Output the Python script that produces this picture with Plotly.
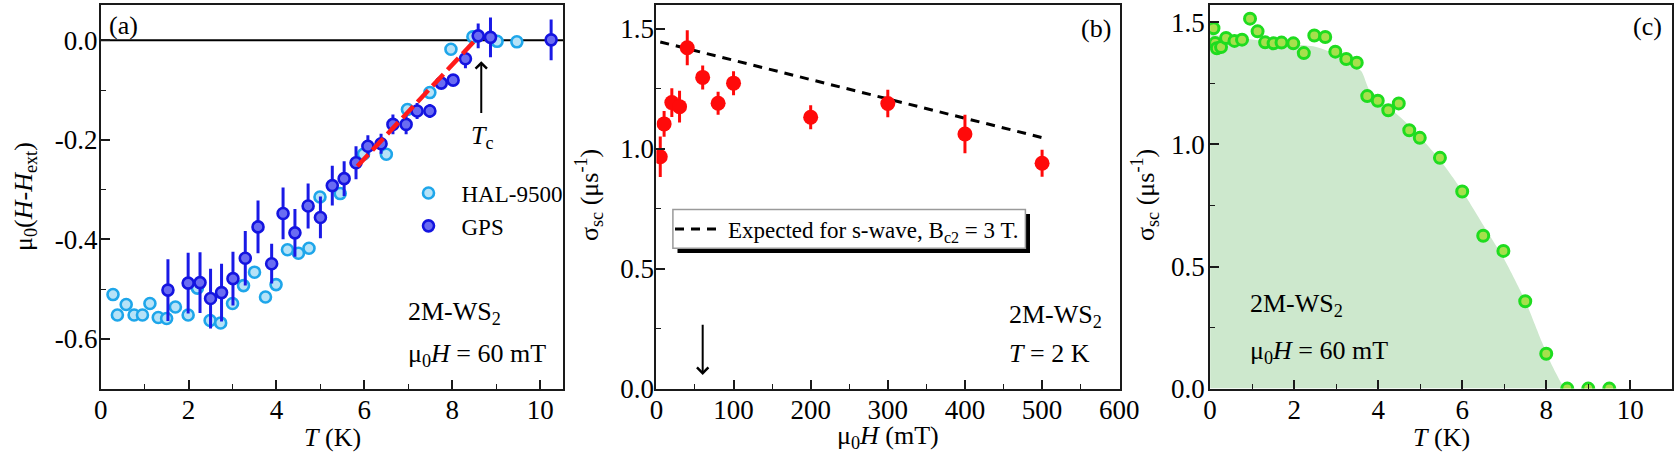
import plotly.graph_objects as go

W, H = 1678, 453
FONT = "Liberation Serif"

# ---------------- Panel (a): mu0(H - Hext) vs T ----------------
hal_T = [0.28, 0.38, 0.58, 0.76, 0.95, 1.12, 1.31, 1.50, 1.70, 1.99, 2.20, 2.49, 2.73,
         3.00, 3.25, 3.50, 3.75, 3.99, 4.25, 4.50, 4.74, 4.99, 5.45, 5.98, 6.50, 6.98,
         7.49, 7.97, 8.47, 9.02, 9.47]
hal_v = [-0.511, -0.552, -0.531, -0.552, -0.552, -0.529, -0.557, -0.559, -0.536, -0.552,
         -0.498, -0.563, -0.568, -0.529, -0.493, -0.466, -0.516, -0.491, -0.421, -0.428,
         -0.418, -0.315, -0.308, -0.229, -0.229, -0.139, -0.105, -0.018, 0.007, -0.002,
         -0.003]

gps_T = [1.53, 1.99, 2.26, 2.50, 2.75, 3.01, 3.29, 3.58, 3.89, 4.15, 4.42, 4.72, 5.00,
         5.27, 5.54, 5.81, 6.08, 6.38, 6.65, 6.95, 7.20, 7.49, 7.75, 8.02, 8.30, 8.59,
         8.87, 10.25]
gps_v = [-0.502, -0.488, -0.487, -0.519, -0.507, -0.479, -0.438, -0.375, -0.449, -0.348,
         -0.387, -0.333, -0.356, -0.292, -0.278, -0.246, -0.213, -0.208, -0.169, -0.169,
         -0.142, -0.142, -0.086, -0.080, -0.037, 0.009, 0.006, 0.001]
gps_err = [0.062, 0.061, 0.061, 0.060, 0.058, 0.054, 0.055, 0.053, 0.040, 0.052, 0.048,
           0.045, 0.042, 0.040, 0.035, 0.033, 0.022, 0.020, 0.020, 0.020, 0.016, 0.014,
           0.012, 0.012, 0.019, 0.025, 0.040, 0.041]

fit_T = [5.84, 8.52]
fit_v = [-0.253, 0.0]

tc_T = 8.66
tc_arrow_v = [-0.149, -0.042]

# ---------------- Panel (b): sigma_sc vs field ----------------
field_mT = [5, 10, 20, 30, 40, 60, 80, 100, 200, 300, 400, 500]
sigma_b = [0.967, 1.104, 1.193, 1.176, 1.422, 1.298, 1.190, 1.274, 1.132, 1.189, 1.062, 0.940]
sigma_b_err = [0.084, 0.054, 0.060, 0.066, 0.073, 0.050, 0.048, 0.050, 0.050, 0.057, 0.080, 0.056]

swave_H = [5, 500]
swave_s = [1.446, 1.047]

arrow_b_H = 60
arrow_b_s = [0.273, 0.057]

# ---------------- Panel (c): sigma_sc vs T ----------------
temp_c = [0.08, 0.12, 0.16, 0.26, 0.38, 0.58, 0.76, 0.95, 1.13, 1.31, 1.51, 1.70, 1.98,
          2.23, 2.48, 2.74, 2.98, 3.24, 3.49, 3.74, 3.99, 4.24, 4.49, 4.74, 4.99, 5.47,
          6.00, 6.50, 6.98, 7.50, 8.00, 8.50, 9.00, 9.50]
sigma_c = [1.476, 1.415, 1.394, 1.399, 1.436, 1.424, 1.429, 1.515, 1.463, 1.418, 1.414,
           1.417, 1.414, 1.374, 1.446, 1.440, 1.380, 1.350, 1.335, 1.198, 1.179, 1.140,
           1.168, 1.058, 1.027, 0.945, 0.807, 0.626, 0.564, 0.358, 0.143, 0.0, 0.0, 0.0]

fill_T = [0, 0.5, 1.0, 1.5, 2.0, 2.5, 3.0, 3.3, 3.6, 3.8, 4.2, 4.6, 5.0, 5.5, 6.0,
          6.5, 7.0, 7.5, 7.9, 8.15, 8.35, 8.45]
fill_s = [1.45, 1.44, 1.43, 1.42, 1.41, 1.40, 1.37, 1.34, 1.30, 1.22, 1.16, 1.10, 1.03,
          0.93, 0.81, 0.67, 0.53, 0.36, 0.19, 0.09, 0.025, 0.0]

# ---------------- Tick labels ----------------
a_xticks = [0, 2, 4, 6, 8, 10]
a_xminor = [1, 3, 5, 7, 9]
a_yticks = [-0.6, -0.4, -0.2, 0.0]
a_yticktext = ["-0.6", "-0.4", "-0.2", "0.0"]
a_yminor = [-0.5, -0.3, -0.1]

b_xticks = [0, 100, 200, 300, 400, 500, 600]
b_xminor = [50, 150, 250, 350, 450, 550]
b_yticks = [0.0, 0.5, 1.0, 1.5]
b_yticktext = ["0.0", "0.5", "1.0", "1.5"]
b_yminor = [0.25, 0.75, 1.25]

c_xticks = [0, 2, 4, 6, 8, 10]
c_xminor = [1, 3, 5, 7, 9]
c_yticks = [0.0, 0.5, 1.0, 1.5]
c_yticktext = ["0.0", "0.5", "1.0", "1.5"]
c_yminor = [0.25, 0.75, 1.25]


def px(p):
    return p / W


def py(p):
    return 1 - p / H


YDOM = [py(388.6), py(5.0)]
AXC = "#1a1a1a"


def axis(domain, rng, tickvals, ticktext, minorvals, standoff, anchor):
    return dict(
        domain=domain, range=rng, anchor=anchor, automargin=False,
        tickmode="array", tickvals=tickvals, ticktext=ticktext,
        showline=True, linecolor=AXC, linewidth=1.8, mirror=True,
        ticks="inside", ticklen=9, tickwidth=1.6, tickcolor=AXC,
        minor=dict(tickmode="array", tickvals=minorvals, ticks="inside",
                   ticklen=5, tickwidth=1.4, tickcolor=AXC),
        showgrid=False, zeroline=False,
        tickfont=dict(family=FONT, size=27, color="black"),
        ticklabelstandoff=standoff,
    )


fig = go.Figure()

# Panel (a)
fig.add_trace(go.Scatter(
    x=hal_T, y=hal_v, mode="markers", name="HAL-9500", xaxis="x", yaxis="y",
    marker=dict(size=11, color="#b6e2f7", line=dict(color="#1ea6ea", width=2.6)),
    legend="legend"))
fig.add_trace(go.Scatter(
    x=gps_T, y=gps_v, mode="markers", name="GPS", xaxis="x", yaxis="y",
    marker=dict(size=11, color="#6a6cf2", line=dict(color="#1414e0", width=2.6)),
    error_y=dict(type="data", array=gps_err, visible=True, color="#1a1ae6",
                 thickness=3, width=0),
    legend="legend"))
fig.add_trace(go.Scatter(
    x=fit_T, y=fit_v, mode="lines", xaxis="x", yaxis="y", showlegend=False,
    line=dict(color="#ff1a1a", width=4.5, dash="16px,6px")))

# Panel (b)
fig.add_trace(go.Scatter(
    x=swave_H, y=swave_s, mode="lines", xaxis="x2", yaxis="y2",
    name="Expected for s-wave, B<sub>c2</sub> = 3 T.",
    line=dict(color="black", width=3, dash="9px,7px"), legend="legend2"))
fig.add_trace(go.Scatter(
    x=field_mT, y=sigma_b, mode="markers", xaxis="x2", yaxis="y2", showlegend=False,
    marker=dict(size=15, color="#ff0a0a", line=dict(width=0)),
    error_y=dict(type="data", array=sigma_b_err, visible=True, color="#ff0a0a",
                 thickness=3, width=0)))

# Panel (c)
fig.add_trace(go.Scatter(
    x=fill_T, y=fill_s, mode="lines", xaxis="x3", yaxis="y3", showlegend=False,
    line=dict(width=0, shape="spline", smoothing=0.6), fill="tozeroy",
    fillcolor="#cde8cd", hoverinfo="skip"))
fig.add_trace(go.Scatter(
    x=temp_c, y=sigma_c, mode="markers", xaxis="x3", yaxis="y3", showlegend=False,
    marker=dict(size=11, color="#a6e04c", line=dict(color="#1fdc1f", width=3))))

ann_font = dict(family=FONT, size=26, color="black")


def ann(x, y, text, xref, yref, xanchor="center", **kw):
    d = dict(x=x, y=y, xref=xref, yref=yref, text=text, showarrow=False,
             font=ann_font, xanchor=xanchor, yanchor="middle")
    d.update(kw)
    return d


def arrow(x, y_tail, y_tip, xref, yref):
    return dict(x=x, y=y_tip, ax=x, ay=y_tail, xref=xref, yref=yref,
                axref=xref, ayref=yref, text="", showarrow=True, arrowhead=4,
                arrowsize=1.1, arrowwidth=2, arrowcolor="black")


annotations = [
    # panel (a)
    ann(0.51, 0.03, "(a)", "x", "y"),
    arrow(tc_T, tc_arrow_v[0], tc_arrow_v[1], "x", "y"),
    ann(8.68, -0.195, "<i>T</i><sub>c</sub>", "x", "y"),
    ann(6.95, -0.548, "2M-WS<sub>2</sub>", "x", "y", xanchor="left"),
    ann(6.95, -0.632, "μ<sub>0</sub><i>H</i> = 60 mT", "x", "y", xanchor="left"),
    # panel (b)
    ann(570, 1.502, "(b)", "x2", "y2"),
    ann(454, 0.302, "2M-WS<sub>2</sub>", "x2", "y2", xanchor="left"),
    ann(454, 0.146, "<i>T</i> = 2 K", "x2", "y2", xanchor="left"),
    arrow(arrow_b_H, arrow_b_s[0], arrow_b_s[1], "x2", "y2"),
    # panel (c)
    ann(10.42, 1.481, "(c)", "x3", "y3"),
    ann(0.91, 0.341, "2M-WS<sub>2</sub>", "x3", "y3", xanchor="left"),
    ann(0.91, 0.151, "μ<sub>0</sub><i>H</i> = 60 mT", "x3", "y3", xanchor="left"),
    # axis titles
    ann(px(332), py(437), "<i>T</i> (K)", "paper", "paper"),
    ann(px(888), py(437), "μ<sub>0</sub><i>H</i> (mT)", "paper", "paper"),
    ann(px(1441), py(437), "<i>T</i> (K)", "paper", "paper"),
    ann(px(25), py(197), "μ<sub>0</sub>(<i>H</i>-<i>H</i><sub>ext</sub>)", "paper", "paper",
        textangle=-90),
    ann(px(589), py(195), "σ<sub>sc</sub> (μs<sup>-1</sup>)", "paper", "paper",
        textangle=-90),
    ann(px(1145), py(195), "σ<sub>sc</sub> (μs<sup>-1</sup>)", "paper", "paper",
        textangle=-90),
]

shapes = [
    dict(type="line", xref="x domain", yref="y", x0=0, x1=1, y0=0, y1=0,
         line=dict(color="black", width=2), layer="below"),
    dict(type="rect", xref="paper", yref="paper", x0=px(677.5), x1=px(1030),
         y0=py(253), y1=py(214), fillcolor="black", line=dict(width=0), layer="above"),
    dict(type="rect", xref="paper", yref="paper", x0=px(672.9), x1=px(1025.4),
         y0=py(248.2), y1=py(209.6), fillcolor="white",
         line=dict(color="#9a9a9a", width=1.5), layer="above"),
]

fig.update_layout(
    width=W, height=H,
    margin=dict(l=0, r=0, t=0, b=0, autoexpand=False),
    paper_bgcolor="white", plot_bgcolor="white",
    font=dict(family=FONT, size=26, color="black"),
    xaxis=axis([px(100.7), px(563)], [0, 10.52], a_xticks, [str(v) for v in a_xticks],
               a_xminor, -4, "y"),
    yaxis=axis(YDOM, [-0.70, 0.071], a_yticks, a_yticktext, a_yminor, -4, "x"),
    xaxis2=axis([px(656.4), px(1120)], [0, 601], b_xticks, [str(v) for v in b_xticks],
                b_xminor, -4, "y2"),
    yaxis2=axis(YDOM, [0, 1.6], b_yticks, b_yticktext, b_yminor, -5, "x2"),
    xaxis3=axis([px(1210.1), px(1672.3)], [0, 11], c_xticks, [str(v) for v in c_xticks],
                c_xminor, -4, "y3"),
    yaxis3=axis(YDOM, [0, 1.571], c_yticks, c_yticktext, c_yminor, -2, "x3"),
    legend=dict(x=px(395.5), y=py(209.5), xanchor="left", yanchor="middle",
                bgcolor="rgba(0,0,0,0)", borderwidth=0, itemwidth=56,
                font=dict(family=FONT, size=23, color="black"), traceorder="normal"),
    legend2=dict(x=px(670), y=py(229), xanchor="left", yanchor="middle",
                 bgcolor="rgba(0,0,0,0)", borderwidth=0, itemwidth=48,
                 font=dict(family=FONT, size=23, color="black")),
    annotations=annotations,
    shapes=shapes,
    showlegend=True,
)

fig.write_html("out.html")
